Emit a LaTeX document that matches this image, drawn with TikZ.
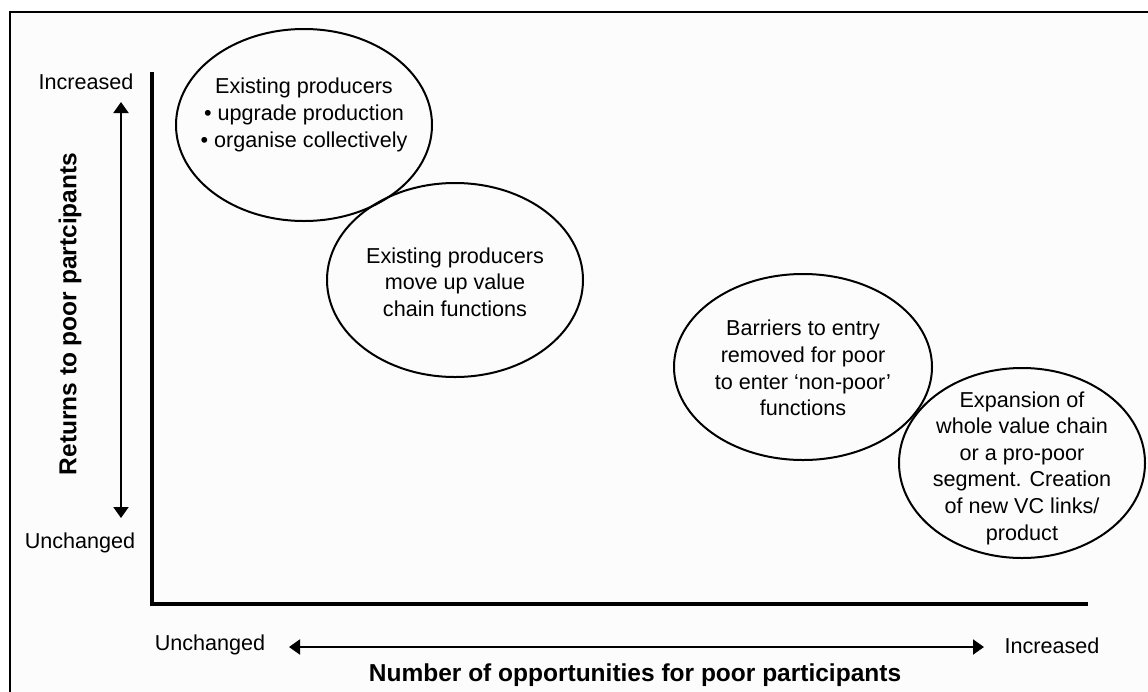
\documentclass[tikz,border=0pt]{standalone}
\usepackage{fontspec}
\setmainfont{Liberation Sans}
\usetikzlibrary{arrows.meta,shapes.geometric}
\definecolor{panel}{RGB}{252,252,252}
\begin{document}
\begin{tikzpicture}[x=1pt,y=-1pt,
  txt/.style={font=\fontsize{21.6}{26.6}\selectfont, inner sep=0pt, align=center},
  axislabel/.style={font=\fontsize{24.5}{29}\selectfont\bfseries, inner sep=0pt},
  bubble/.style={draw, ellipse, line width=2pt, inner sep=0pt},
  axisline/.style={line width=4pt, line join=miter},
  scalearrow/.style={line width=2pt, {Triangle[width=15pt,length=11pt]}-{Triangle[width=15pt,length=11pt]}}
]
\useasboundingbox (0,0) rectangle (1148,691);
% outer frame (runs off the page on the right and bottom)
\begin{scope}
  \clip (0,0) rectangle (1148,691);
  \draw[line width=2.5pt, fill=panel] (10,12) rectangle (1170,710);
\end{scope}

% axes
\coordinate (ytop) at (152,72);
\coordinate (origin) at (152,604);
\coordinate (xend) at (1088,604);
\draw[axisline] (ytop) -- (origin) -- (xend);

% vertical scale
\node[txt] (yhi) at (86,82) {Increased};
\node[txt] (ylo) at (80,543) {Unchanged};
\coordinate (yarrtop) at (121,102);
\coordinate (yarrbot) at (121,518);
\draw[scalearrow] (yarrtop) -- (yarrbot);
\node[axislabel, rotate=90] (ytitle) at (70,314) {Returns to poor partcipants};

% horizontal scale
\node[txt] (xlo) at (210,645) {Unchanged};
\node[txt] (xhi) at (1052,646) {Increased};
\coordinate (xarrl) at (289,647);
\coordinate (xarrr) at (984,647);
\draw[scalearrow] (xarrl) -- (xarrr);
\node[axislabel] (xtitle) at (635,675) {Number of opportunities for poor participants};

% strategy bubbles
\node[bubble, minimum width=256pt, minimum height=192pt] (e1) at (304,125) {};
\node[txt] (t1) at (304,115) {Existing producers\\\textbullet{} upgrade production\\\textbullet{} organise collectively};

\node[bubble, minimum width=256pt, minimum height=194pt] (e2) at (455,280) {};
\node[txt] (t2) at (455,282) {Existing producers\\move up value\\chain functions};

\node[bubble, minimum width=258pt, minimum height=186pt] (e3) at (803,367) {};
\node[txt] (t3) at (803,368) {Barriers to entry\\removed for poor\\to enter `non-poor'\\functions};

\node[bubble, minimum width=246pt, minimum height=190pt] (e4) at (1022,463) {};
\node[txt] (t4) at (1022,468) {Expansion of\\whole value chain\\or a pro-poor\\segment. Creation\\of new VC links/\\product};
\end{tikzpicture}
\end{document}
